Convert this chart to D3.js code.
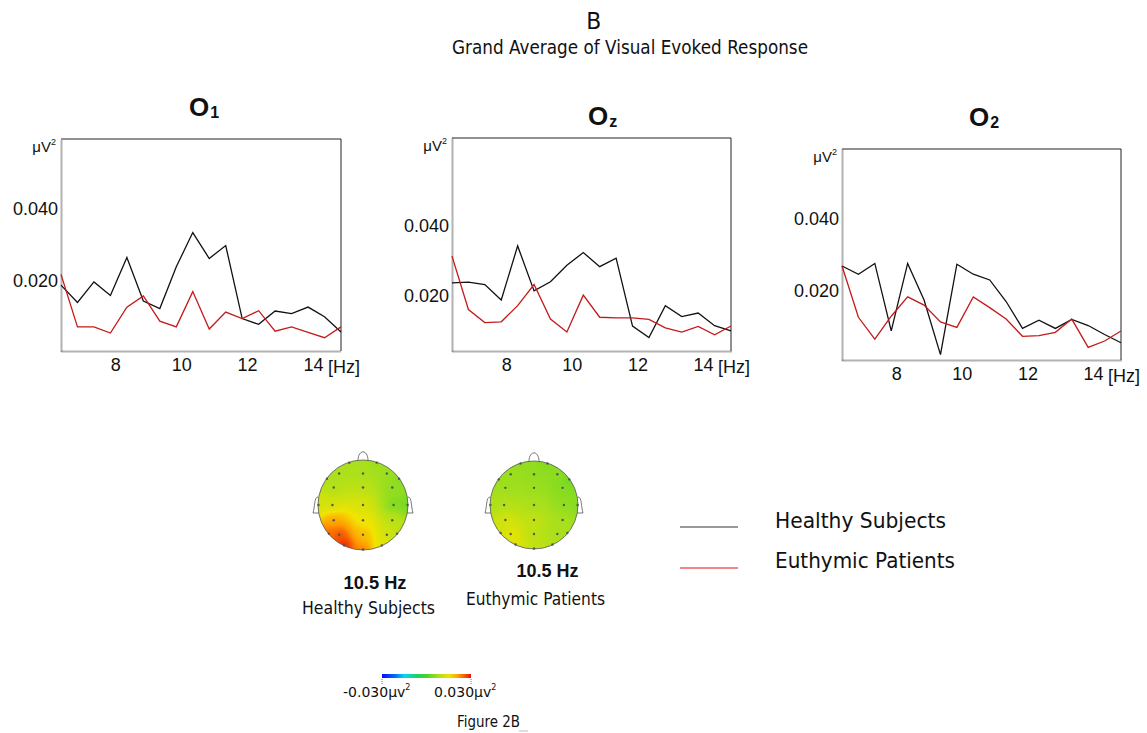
<!DOCTYPE html>
<html lang="en">
<head>
  <meta charset="utf-8">
  <title>Figure 2B</title>
  <style>
    body { margin: 0; background: #fff; }
    svg { display: block; }
    .tick text { font-family: "Liberation Sans", Arial, sans-serif; font-size: 18px; fill: #111; }
  </style>
</head>
<body>
<svg id="fig" width="1147" height="733"></svg>
<script src="https://cdn.jsdelivr.net/npm/d3@7"></script>
<script>

// frequency bins (Hz)
const freqs = [6.35, 6.85, 7.35, 7.85, 8.35, 8.85, 9.35, 9.85, 10.35,
               10.85, 11.35, 11.85, 12.35, 12.85, 13.35, 13.85, 14.35, 14.85];
const xTicks = [8, 10, 12, 14];
const yTicks = [0.020, 0.040];

// power spectra, µV²
const healthyO1  = [0.0188, 0.0140, 0.0197, 0.0159, 0.0265, 0.0144, 0.0123, 0.0239, 0.0334,
                    0.0262, 0.0298, 0.0095, 0.0079, 0.0116, 0.0109, 0.0127, 0.0100, 0.0058];
const patientsO1 = [0.0218, 0.0072, 0.0072, 0.0055, 0.0127, 0.0158, 0.0088, 0.0072, 0.0170,
                    0.0066, 0.0113, 0.0095, 0.0117, 0.0060, 0.0072, 0.0057, 0.0042, 0.0072];
const healthyOz  = [0.0238, 0.0240, 0.0233, 0.0189, 0.0343, 0.0215, 0.0241, 0.0288, 0.0324,
                    0.0284, 0.0308, 0.0115, 0.0082, 0.0173, 0.0142, 0.0152, 0.0116, 0.0101];
const patientsOz = [0.0314, 0.0162, 0.0125, 0.0127, 0.0173, 0.0233, 0.0135, 0.0098, 0.0203,
                    0.0140, 0.0138, 0.0138, 0.0134, 0.0110, 0.0098, 0.0114, 0.0090, 0.0115];
const healthyO2  = [0.0269, 0.0246, 0.0276, 0.0088, 0.0276, 0.0174, 0.0022, 0.0274, 0.0246,
                    0.0230, 0.0170, 0.0095, 0.0118, 0.0095, 0.0120, 0.0103, 0.0078, 0.0055];
const patientsO2 = [0.0269, 0.0126, 0.0065, 0.0129, 0.0183, 0.0160, 0.0113, 0.0098, 0.0183,
                    0.0153, 0.0121, 0.0073, 0.0075, 0.0084, 0.0121, 0.0042, 0.0060, 0.0088];

// 10.5 Hz scalp maps: inner grid (5 rows x 3 cols, front to back) then rim electrodes
const healthyMap  = [0.008, 0.008, 0.007,
                     0.009, 0.010, 0.006,
                     0.012, 0.013, 0.004,
                     0.021, 0.015, 0.010,
                     0.027, 0.019, 0.012,
                     0.008, 0.007, 0.008, 0.005, 0.012, 0.003, 0.025, 0.010, 0.030, 0.014, 0.024];
const patientsMap = [0.007, 0.006, 0.006,
                     0.007, 0.007, 0.005,
                     0.009, 0.008, 0.006,
                     0.013, 0.011, 0.008,
                     0.015, 0.010, 0.008,
                     0.006, 0.005, 0.007, 0.003, 0.008, 0.005, 0.012, 0.008, 0.014, 0.009, 0.011];

const colorDomain = [-0.030, 0.030];

const svg = d3.select("#fig");
const gothic = '"DejaVu Sans", "Liberation Sans", sans-serif';
const arial = '"Liberation Sans", Arial, sans-serif';

function label(x, y, str, size, opt) {
  opt = opt || {};
  let t = svg.append("text")
    .attr("x", x).attr("y", y)
    .attr("font-family", opt.font || gothic)
    .attr("font-size", size)
    .attr("font-weight", opt.bold ? "bold" : "normal")
    .attr("text-anchor", opt.anchor || "start")
    .attr("fill", "#111")
    .text(str);
  if (opt.width) t.attr("textLength", opt.width).attr("lengthAdjust", "spacingAndGlyphs");
  return t;
}

// headings
label(593.7, 29, "B", 23, {anchor: "middle", width: 15});
label(452, 54, "Grand Average of Visual Evoked Response", 19, {width: 356});

// spectra panels
const panels = [
  {sub: "1", box: [61, 139, 341, 351], yDom: [0.0005, 0.0594], title: [189, 116], healthy: healthyO1, patients: patientsO1},
  {sub: "z", box: [452, 138, 731, 351], yDom: [0.0044, 0.0650], title: [588, 125], healthy: healthyOz, patients: patientsOz},
  {sub: "2", box: [842, 149, 1121, 360], yDom: [0.0007, 0.0595], title: [969, 126], healthy: healthyO2, patients: patientsO2}
];

panels.forEach(function(p) {
  let [x0, y0, x1, y1] = p.box;
  let x = d3.scaleLinear().domain([freqs[0], freqs[freqs.length - 1]]).range([x0, x1]);
  let y = d3.scaleLinear().domain(p.yDom).range([y1, y0]);
  let g = svg.append("g");

  // top + right frame
  g.append("path")
    .attr("d", "M" + x0 + "," + y0 + "H" + x1 + "V" + y1)
    .attr("fill", "none").attr("stroke", "#222").attr("stroke-width", 1);

  let ax = g.append("g").attr("transform", "translate(0," + y1 + ")")
    .call(d3.axisBottom(x).tickValues(xTicks).tickSize(0).tickSizeOuter(0).tickPadding(7));
  let ay = g.append("g").attr("transform", "translate(" + x0 + ",0)")
    .call(d3.axisLeft(y).tickValues(yTicks).tickFormat(d3.format(".3f")).tickSize(0).tickSizeOuter(0).tickPadding(3));
  [ax, ay].forEach(function(a) {
    a.select(".domain").attr("stroke", "#666").attr("stroke-width", 2).attr("stroke-dasharray", "1,1");
    a.selectAll("text").attr("fill", "#111");
  });

  let line = d3.line().x(function(d, i) { return x(freqs[i]); }).y(function(d) { return y(d); });
  g.append("path").datum(p.healthy).attr("d", line)
    .attr("fill", "none").attr("stroke", "#111").attr("stroke-width", 1.3);
  g.append("path").datum(p.patients).attr("d", line)
    .attr("fill", "none").attr("stroke", "#c41a1a").attr("stroke-width", 1.3);

  // unit labels
  let u = g.append("text").attr("x", x0 - 5).attr("y", y0 + 13)
    .attr("font-family", arial).attr("font-size", 15).attr("text-anchor", "end").attr("fill", "#111");
  u.append("tspan").text("μV");
  u.append("tspan").attr("font-size", 9).attr("dy", -7).text("2");
  g.append("text").attr("x", x1 - 13).attr("y", y1 + 22)
    .attr("font-family", arial).attr("font-size", 18).attr("fill", "#111").text("[Hz]");

  // channel title
  let t = g.append("text").attr("x", p.title[0]).attr("y", p.title[1])
    .attr("font-family", arial).attr("font-weight", "bold").attr("font-size", 26).attr("fill", "#111");
  t.append("tspan").text("O");
  t.append("tspan").attr("font-size", 16).attr("dx", 1).attr("dy", 2).text(p.sub);
});

// scalp maps
const color = d3.scaleLinear()
  .domain([-0.030, -0.021, -0.015, -0.006, 0.0, 0.008, 0.0156, 0.022, 0.030])
  .range(["#0a0aff", "#0070ff", "#00d8f0", "#20d060", "#48d428", "#a8e01c", "#f2e400", "#ff9800", "#ec1000"])
  .clamp(true);

// electrode layout in unit-circle coordinates (y downward = back of head)
const inner = [];
[[-0.70, 0.53], [-0.39, 0.65], [0.0, 0.68], [0.34, 0.65], [0.66, 0.53]].forEach(function(r) {
  inner.push([-r[1], r[0]], [0, r[0]], [r[1], r[0]]);
});
const rim = [-18, 18, -54, 54, -90, 90, -130, 130, -155, 155, 180].map(function(a) {
  let t = a * Math.PI / 180;
  return [Math.sin(t) * 0.99, -Math.cos(t) * 0.99];
});
const electrodes = inner.concat(rim);

function drawHead(cx, cy, r, values) {
  let n = Math.ceil(2 * r);
  let cv = document.createElement("canvas");
  cv.width = n; cv.height = n;
  let ctx = cv.getContext("2d");
  let img = ctx.createImageData(n, n);
  for (let j = 0; j < n; j++) {
    for (let i = 0; i < n; i++) {
      let u = (i + 0.5 - r) / r, v = (j + 0.5 - r) / r;
      if (u * u + v * v > 1.02) continue;
      let sw = 0, sv = 0;
      electrodes.forEach(function(e, k) {
        let d2 = (u - e[0]) * (u - e[0]) + (v - e[1]) * (v - e[1]) + 0.03;
        let w = 1 / Math.pow(d2, 1.5);
        sw += w; sv += w * values[k];
      });
      let c = d3.rgb(color(sv / sw));
      let o = 4 * (j * n + i);
      img.data[o] = c.r; img.data[o + 1] = c.g; img.data[o + 2] = c.b; img.data[o + 3] = 255;
    }
  }
  ctx.putImageData(img, 0, 0);

  let id = "clip" + Math.round(cx);
  svg.append("clipPath").attr("id", id).append("circle").attr("cx", cx).attr("cy", cy).attr("r", r);
  svg.append("image").attr("href", cv.toDataURL())
    .attr("x", cx - r).attr("y", cy - r).attr("width", n).attr("height", n)
    .attr("clip-path", "url(#" + id + ")");

  let head = svg.append("g").attr("fill", "none").attr("stroke", "#555").attr("stroke-width", 0.8);
  head.append("circle").attr("cx", cx).attr("cy", cy).attr("r", r);
  head.append("path").attr("d", "M" + (cx - 5) + "," + (cy - r + 0.5) +
    "C" + (cx - 5) + "," + (cy - r - 11) + " " + (cx + 5) + "," + (cy - r - 11) + " " + (cx + 5) + "," + (cy - r + 0.5));
  [-1, 1].forEach(function(s) {
    let ex = cx + s * r;
    head.append("path").attr("d", "M" + ex + "," + (cy - 8) +
      "C" + (ex + s * 4) + "," + (cy - 8) + " " + (ex + s * 3) + "," + (cy + 2) + " " + (ex + s * 5) + "," + (cy + 8) +
      "L" + (ex - s * 1) + "," + (cy + 8));
  });
  svg.append("g").selectAll("circle").data(electrodes).enter().append("circle")
    .attr("cx", function(d) { return cx + d[0] * r; })
    .attr("cy", function(d) { return cy + d[1] * r; })
    .attr("r", 1.2).attr("fill", "#555");
}

drawHead(363, 505, 45, healthyMap);
drawHead(534, 505, 44, patientsMap);

label(375, 589, "10.5 Hz", 18, {font: arial, bold: true, anchor: "middle", width: 63});
label(302, 614, "Healthy Subjects", 17, {width: 133});
label(547.5, 577, "10.5 Hz", 18, {font: arial, bold: true, anchor: "middle", width: 62});
label(466, 605, "Euthymic Patients", 17, {width: 139});

// legend
svg.append("line").attr("x1", 680).attr("x2", 738).attr("y1", 527).attr("y2", 527)
  .attr("stroke", "#333").attr("stroke-width", 1.2);
svg.append("line").attr("x1", 680).attr("x2", 738).attr("y1", 568).attr("y2", 568)
  .attr("stroke", "#e01010").attr("stroke-width", 1.2);
label(775, 528, "Healthy Subjects", 22, {width: 171});
label(775, 568, "Euthymic Patients", 22, {width: 180});

// colour bar
const grad = svg.append("defs").append("linearGradient").attr("id", "cbar");
d3.range(0, 1.0001, 0.05).forEach(function(t) {
  grad.append("stop").attr("offset", t)
    .attr("stop-color", color(colorDomain[0] + t * (colorDomain[1] - colorDomain[0])));
});
const cb = d3.scaleLinear().domain(colorDomain).range([382, 471]);
svg.append("rect").attr("x", cb(colorDomain[0])).attr("y", 674)
  .attr("width", cb(colorDomain[1]) - cb(colorDomain[0])).attr("height", 4).attr("fill", "url(#cbar)");
colorDomain.forEach(function(v) {
  svg.append("line").attr("x1", cb(v)).attr("x2", cb(v)).attr("y1", 679).attr("y2", 684)
    .attr("stroke", "#777").attr("stroke-width", 1).attr("stroke-dasharray", "1,1");
});
const fmt = d3.format(".3f");
[[343, colorDomain[0]], [434, colorDomain[1]]].forEach(function(d) {
  let t = svg.append("text").attr("x", d[0]).attr("y", 697)
    .attr("font-family", gothic).attr("font-size", 14).attr("fill", "#111");
  t.append("tspan").text(fmt(d[1]).replace("\u2212", "-") + "μv");
  t.append("tspan").attr("font-size", 8).attr("dy", -7).text("2");
});

label(457, 727, "Figure 2B", 15, {width: 63});
svg.append("line").attr("x1", 519).attr("x2", 528).attr("y1", 731).attr("y2", 731)
  .attr("stroke", "#bbb").attr("stroke-width", 1);

</script>
</body>
</html>
